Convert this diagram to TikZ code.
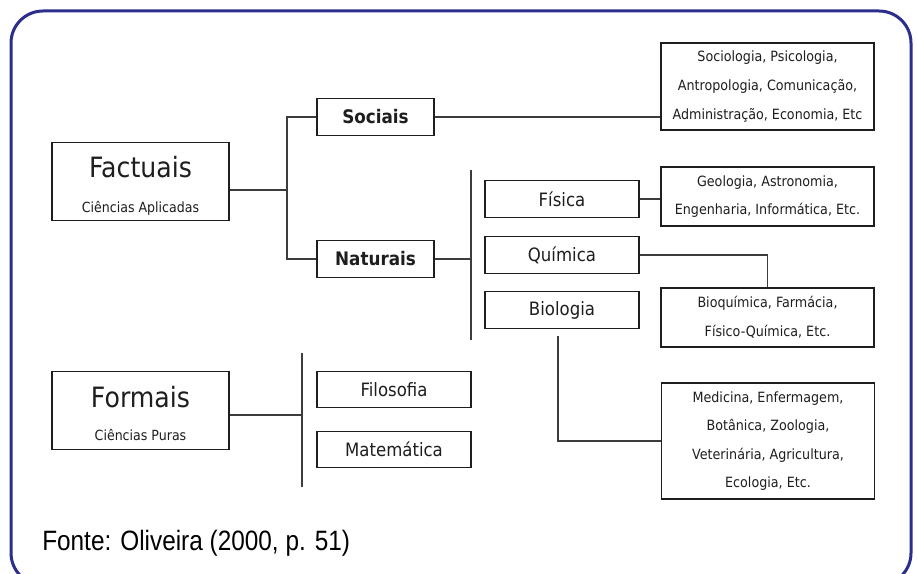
\documentclass[tikz,border=0pt]{standalone}
\usepackage{fontspec}
\usepackage{xcolor}
\usepackage{tikz}
\usetikzlibrary{positioning}
\newfontfamily\boxfont[FakeStretch=0.9]{DejaVu Sans}
\newfontfamily\sourcefont[FakeStretch=0.87]{Liberation Sans}
\definecolor{FrameInk}{HTML}{2B2E8C}
\definecolor{BoxInk}{HTML}{1E1E1E}
\definecolor{LinkInk}{HTML}{3C3C3C}
\tikzset{
  figure/.style={x=0.75pt,y=-0.75pt,text=BoxInk},
  frame/.style={draw=FrameInk,line width=2.25pt,rounded corners=24pt},
  cbox/.style={draw=BoxInk,line width=0.8pt,fill=white,inner sep=0pt,align=center},
  bigbox/.style={cbox,minimum width=132.75pt,minimum height=58pt},
  areaname/.style={anchor=base,font=\boxfont\fontsize{21pt}{24pt}\selectfont},
  areasub/.style={anchor=base,font=\boxfont\fontsize{10.5pt}{12pt}\selectfont},
  midbox/.style={cbox,minimum width=87.75pt,minimum height=27.5pt,
    font=\boxfont\bfseries\fontsize{14pt}{16pt}\selectfont},
  leafbox/.style={cbox,minimum width=115.5pt,minimum height=27.5pt,
    font=\boxfont\fontsize{13.8pt}{16pt}\selectfont},
  listbox/.style={cbox,minimum width=159.75pt,
    font=\boxfont\fontsize{10.6pt}{21.4pt}\selectfont},
  link/.style={draw=LinkInk,line width=0.9pt},
}

\begin{document}
\begin{tikzpicture}[figure]
  \useasboundingbox (0,0) rectangle (917,574);
  \draw[frame] (11,11) rectangle (911,585);

  % ciencias factuais
  \node[bigbox] (factuais) at (140.5,181.5) {};
  \node[areaname] (factuaisname) at (140.5,178) {Factuais};
  \node[areasub] (factuaissub) at (140.5,212) {Ciências Aplicadas};

  \node[midbox] (sociais) at (375.5,117) {Sociais};
  \node[midbox] (naturais) at (375.5,259) {Naturais};

  \node[listbox,minimum height=65.25pt] (sociologia) at (767.5,86.5)
    {Sociologia, Psicologia,\\ Antropologia, Comunicação,\\ Administração, Economia, Etc};

  \node[leafbox] (fisica) at (562,199) {Física};
  \node[leafbox] (quimica) at (562,255) {Química};
  \node[leafbox] (biologia) at (562,310) {Biologia};

  \node[listbox,minimum height=44.25pt] (geologia) at (767.5,196.5)
    {Geologia, Astronomia,\\ Engenharia, Informática, Etc.};
  \node[listbox,minimum height=44.25pt] (bioquimica) at (767.5,317.5)
    {Bioquímica, Farmácia,\\ Físico-Química, Etc.};
  \node[listbox,minimum height=87pt] (medicina) at (768,441)
    {Medicina, Enfermagem,\\ Botânica, Zoologia,\\ Veterinária, Agricultura,\\ Ecologia, Etc.};

  % ciencias formais
  \node[bigbox] (formais) at (140.5,410.5) {};
  \node[areaname] (formaisname) at (140.5,407) {Formais};
  \node[areasub] (formaissub) at (140.5,440) {Ciências Puras};

  \node[leafbox] (filosofia) at (394,389.5) {Filosofia};
  \node[leafbox] (matematica) at (394,449.5) {Matemática};

  \coordinate (branchfactual) at (287,190);
  \coordinate (naturalbartop) at (471,170);
  \coordinate (naturalbarbottom) at (471,340);
  \coordinate (biologydrop) at (558,336);
  \coordinate (branchformal) at (302,415);
  \coordinate (formalbartop) at (302,353);
  \coordinate (formalbarbottom) at (302,487);

  \draw[link] (factuais.east |- branchfactual) -- (branchfactual);
  \draw[link] (sociais.west) -| (branchfactual) |- (naturais.west);
  \draw[link] (sociais.east) -- (sociais.east -| sociologia.west);
  \draw[link] (naturais.east) -- (naturais.east -| naturalbartop);
  \draw[link] (naturalbartop) -- (naturalbarbottom);
  \draw[link] (fisica.east) -- (fisica.east -| geologia.west);
  \draw[link] (quimica.east) -| (bioquimica.north);
  \draw[link] (biologydrop) |- (medicina.west);
  \draw[link] (formais.east |- branchformal) -- (branchformal);
  \draw[link] (formalbartop) -- (formalbarbottom);

  \node[anchor=base west,inner sep=0pt,font=\sourcefont\fontsize{21pt}{24pt}\selectfont,text=black]
    (fonte) at (42,550) {Fonte: Oliveira (2000, p. 51)};
\end{tikzpicture}
\end{document}
